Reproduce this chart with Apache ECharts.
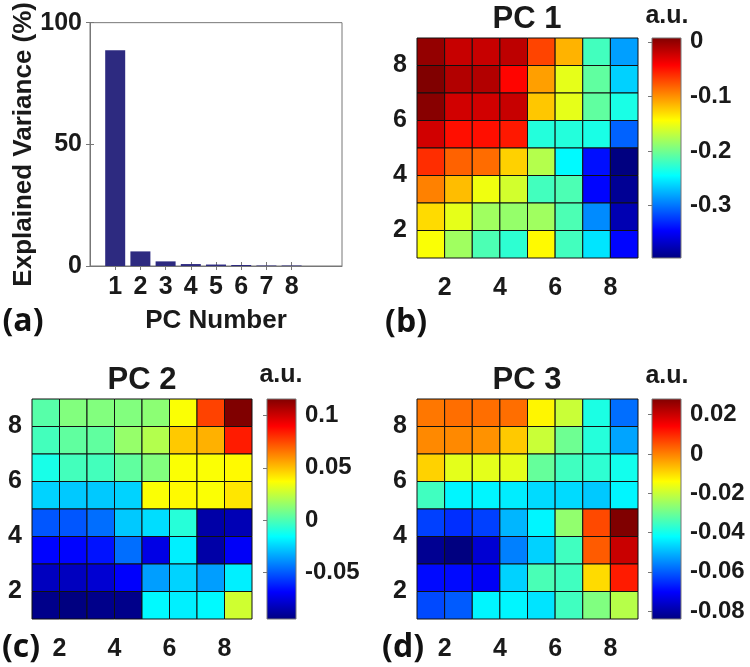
<!DOCTYPE html>
<html><head><meta charset="utf-8">
<script src="https://cdn.jsdelivr.net/npm/echarts@6/dist/echarts.min.js"></script>
<style>html,body{margin:0;padding:0;background:#fff}#c{width:750px;height:667px}</style>
</head><body><div id="c"></div>
<script>
// ---- data ----
const pcNumbers = [1, 2, 3, 4, 5, 6, 7, 8];
const explainedVariance = [88.7, 6.0, 1.9, 0.8, 0.6, 0.4, 0.2, 0.2];
const varianceTicks = [0, 50, 100];
const gridTicks = [2, 4, 6, 8];
// rows listed from top (y = 8) down to bottom (y = 1); columns x = 1..8
const pc1Rows = [
  [-0.001, -0.021, -0.021, -0.017, -0.070, -0.114, -0.219, -0.283],
  [ 0.007, -0.013, -0.013, -0.045, -0.106, -0.154, -0.207, -0.263],
  [ 0.004, -0.025, -0.025, -0.021, -0.122, -0.154, -0.207, -0.235],
  [-0.025, -0.049, -0.049, -0.053, -0.231, -0.231, -0.235, -0.307],
  [-0.061, -0.082, -0.086, -0.126, -0.174, -0.247, -0.340, -0.396],
  [-0.094, -0.118, -0.150, -0.162, -0.219, -0.215, -0.344, -0.388],
  [-0.130, -0.154, -0.182, -0.186, -0.182, -0.215, -0.291, -0.376],
  [-0.146, -0.182, -0.215, -0.227, -0.142, -0.219, -0.255, -0.344]
];
const pc2Rows = [
  [ 0.002,  0.011,  0.011,  0.011,  0.013,  0.036,  0.076,  0.116],
  [-0.002,  0.004,  0.004,  0.015,  0.021,  0.048,  0.053,  0.084],
  [-0.011, -0.002, -0.002,  0.004,  0.011,  0.036,  0.036,  0.038],
  [-0.025, -0.027, -0.027, -0.025,  0.036,  0.038,  0.036,  0.042],
  [-0.051, -0.051, -0.046, -0.027, -0.023, -0.008, -0.087, -0.084],
  [-0.068, -0.068, -0.065, -0.046, -0.074, -0.019, -0.087, -0.070],
  [-0.082, -0.082, -0.078, -0.069, -0.036, -0.025, -0.036, -0.019],
  [-0.093, -0.095, -0.093, -0.093, -0.017, -0.019, -0.017,  0.027]
];
const pc3Rows = [
  [ 0.001,  0.002,  0.002,  0.002, -0.013, -0.020, -0.039, -0.058],
  [-0.001, -0.001, -0.002, -0.008, -0.020, -0.030, -0.038, -0.052],
  [-0.009, -0.017, -0.017, -0.017, -0.031, -0.035, -0.037, -0.040],
  [-0.035, -0.043, -0.043, -0.044, -0.046, -0.046, -0.048, -0.043],
  [-0.063, -0.065, -0.063, -0.050, -0.043, -0.026,  0.006,  0.028],
  [-0.082, -0.084, -0.075, -0.056, -0.047, -0.035,  0.004,  0.020],
  [-0.069, -0.069, -0.071, -0.047, -0.034, -0.035, -0.010,  0.011],
  [-0.062, -0.060, -0.043, -0.043, -0.045, -0.035, -0.028, -0.022]
];
const pc1Range = [-0.396, 0.007];
const pc2Range = [-0.095, 0.116];
const pc3Range = [-0.084, 0.028];
const pc1Ticks = [-0.3, -0.2, -0.1, 0];
const pc2Ticks = [-0.05, 0, 0.05, 0.1];
const pc3Ticks = [-0.08, -0.06, -0.04, -0.02, 0, 0.02];
const panelTitles = ['PC 1', 'PC 2', 'PC 3'];
const panelLetters = ['(a)', '(b)', '(c)', '(d)'];

// ---- helpers ----
const jet = ['#000080', '#0000ff', '#0080ff', '#00ffff', '#80ff80', '#ffff00', '#ff8000', '#ff0000', '#800000'];
const FONT = '"Liberation Sans", Arial, sans-serif';
const TXT = '#1a1a1a';
const lab = (extra) => Object.assign({ fontFamily: FONT, fontWeight: 'bold', fontSize: 25, color: TXT }, extra || {});

function cells(rows) {
  const out = [];
  rows.forEach((row, r) => row.forEach((v, c) => out.push([c + 1, rows.length - r, v])));
  return out;
}
function heatItem(params, api) {
  const x = api.value(0), y = api.value(1);
  const p1 = api.coord([x, y + 1]);
  const p2 = api.coord([x + 1, y]);
  return { type: 'rect',
    shape: { x: p1[0], y: p1[1], width: p2[0] - p1[0], height: p2[1] - p1[1] },
    style: { fill: api.visual('color'), stroke: '#111', lineWidth: 1 } };
}
function cbarItem(params, api) {
  const lo = api.coord([0, api.value(1)]);
  const hi = api.coord([1, api.value(2)]);
  return { type: 'rect',
    shape: { x: lo[0], y: hi[1], width: hi[0] - lo[0], height: lo[1] - hi[1] },
    style: { stroke: '#777', lineWidth: 1,
      fill: { type: 'linear', x: 0, y: 1, x2: 0, y2: 0,
        colorStops: jet.map((c, i) => ({ offset: i / (jet.length - 1), color: c })) } } };
}
function heatX(gi) {
  return { type: 'value', gridIndex: gi, min: 1, max: 9,
    axisLine: { show: false }, axisTick: { show: false }, splitLine: { show: false },
    axisLabel: lab({ customValues: gridTicks, margin: 18 }) };
}
function heatY(gi) {
  return { type: 'value', gridIndex: gi, min: 1, max: 9,
    axisLine: { show: false }, axisTick: { show: false }, splitLine: { show: false },
    axisLabel: lab({ customValues: gridTicks, margin: 10 }) };
}
function cbX(gi) {
  return { type: 'value', gridIndex: gi, min: 0, max: 1, show: false };
}
function cbY(gi, range, ticks) {
  return { type: 'value', gridIndex: gi, position: 'right', min: range[0], max: range[1],
    axisLine: { show: false }, splitLine: { show: false },
    axisTick: { show: true, inside: true, length: 4, customValues: ticks, lineStyle: { color: '#777' } },
    axisLabel: lab({ customValues: ticks, margin: 9, fontSize: 24, formatter: v => String(v) }) };
}

const option = {
  animation: false,
  backgroundColor: '#fff',
  grid: [
    { left: 90, top: 15, width: 252, height: 251, show: true, borderColor: '#777', borderWidth: 1 },
    { left: 417, top: 38, width: 221, height: 220 },
    { left: 652, top: 38, width: 29, height: 220 },
    { left: 32, top: 399, width: 220, height: 220 },
    { left: 267, top: 399, width: 29, height: 220 },
    { left: 417, top: 399, width: 221, height: 220 },
    { left: 652, top: 399, width: 29, height: 220 }
  ],
  xAxis: [
    { type: 'value', gridIndex: 0, min: 0, max: 10,
      axisLine: { show: true, lineStyle: { color: '#777' } }, splitLine: { show: false },
      axisTick: { show: true, inside: true, length: 4, customValues: pcNumbers, lineStyle: { color: '#777' } },
      axisLabel: lab({ customValues: pcNumbers, margin: 9 }),
      name: 'PC Number', nameLocation: 'middle', nameGap: 42, nameTextStyle: lab({ fontSize: 26 }) },
    { type: 'value', gridIndex: 0, position: 'top', min: 0, max: 10,
      axisLine: { show: false }, splitLine: { show: false }, axisLabel: { show: false },
      axisTick: { show: true, inside: true, length: 4, customValues: pcNumbers, lineStyle: { color: '#777' } } },
    heatX(1), cbX(2), heatX(3), cbX(4), heatX(5), cbX(6)
  ],
  yAxis: [
    { type: 'value', gridIndex: 0, min: 0, max: 100, interval: 50,
      axisLine: { show: true, lineStyle: { color: '#777' } }, splitLine: { show: false },
      axisTick: { show: true, inside: true, length: 4, lineStyle: { color: '#777' } },
      axisLabel: lab({ margin: 8 }),
      name: 'Explained Variance (%)', nameLocation: 'middle', nameGap: 47,
      nameTextStyle: lab({ fontSize: 26 }) },
    { type: 'value', gridIndex: 0, position: 'right', min: 0, max: 100,
      axisLine: { show: false }, splitLine: { show: false }, axisLabel: { show: false },
      axisTick: { show: true, inside: true, length: 4, customValues: varianceTicks, lineStyle: { color: '#777' } } },
    heatY(1), cbY(2, pc1Range, pc1Ticks),
    heatY(3), cbY(4, pc2Range, pc2Ticks),
    heatY(5), cbY(6, pc3Range, pc3Ticks)
  ],
  visualMap: [
    { type: 'continuous', show: false, seriesIndex: 1, dimension: 2, min: pc1Range[0], max: pc1Range[1], inRange: { color: jet } },
    { type: 'continuous', show: false, seriesIndex: 3, dimension: 2, min: pc2Range[0], max: pc2Range[1], inRange: { color: jet } },
    { type: 'continuous', show: false, seriesIndex: 5, dimension: 2, min: pc3Range[0], max: pc3Range[1], inRange: { color: jet } }
  ],
  series: [
    { type: 'bar', xAxisIndex: 0, yAxisIndex: 0, barWidth: 20,
      itemStyle: { color: '#2d2a80' },
      data: pcNumbers.map((n, i) => [n, explainedVariance[i]]) },
    { type: 'custom', xAxisIndex: 2, yAxisIndex: 2, renderItem: heatItem, data: cells(pc1Rows) },
    { type: 'custom', xAxisIndex: 3, yAxisIndex: 3, renderItem: cbarItem, data: [[0, pc1Range[0], pc1Range[1]]] },
    { type: 'custom', xAxisIndex: 4, yAxisIndex: 4, renderItem: heatItem, data: cells(pc2Rows) },
    { type: 'custom', xAxisIndex: 5, yAxisIndex: 5, renderItem: cbarItem, data: [[0, pc2Range[0], pc2Range[1]]] },
    { type: 'custom', xAxisIndex: 6, yAxisIndex: 6, renderItem: heatItem, data: cells(pc3Rows) },
    { type: 'custom', xAxisIndex: 7, yAxisIndex: 7, renderItem: cbarItem, data: [[0, pc3Range[0], pc3Range[1]]] }
  ],
  graphic: [
    { type: 'text', x: 527, y: 19, style: { text: panelTitles[0], font: 'bold 31px ' + FONT, fill: TXT, align: 'center', verticalAlign: 'middle' } },
    { type: 'text', x: 142, y: 380, style: { text: panelTitles[1], font: 'bold 31px ' + FONT, fill: TXT, align: 'center', verticalAlign: 'middle' } },
    { type: 'text', x: 527, y: 380, style: { text: panelTitles[2], font: 'bold 31px ' + FONT, fill: TXT, align: 'center', verticalAlign: 'middle' } },
    { type: 'text', x: 667, y: 16, style: { text: 'a.u.', font: 'bold 25px ' + FONT, fill: TXT, align: 'center', verticalAlign: 'middle' } },
    { type: 'text', x: 281, y: 375, style: { text: 'a.u.', font: 'bold 25px ' + FONT, fill: TXT, align: 'center', verticalAlign: 'middle' } },
    { type: 'text', x: 667, y: 376, style: { text: 'a.u.', font: 'bold 25px ' + FONT, fill: TXT, align: 'center', verticalAlign: 'middle' } },
    { type: 'text', x: 23, y: 322, style: { text: panelLetters[0], font: 'bold 32px "Open Sans", sans-serif', fill: '#111', align: 'center', verticalAlign: 'middle' } },
    { type: 'text', x: 406, y: 323, style: { text: panelLetters[1], font: 'bold 32px "Open Sans", sans-serif', fill: '#111', align: 'center', verticalAlign: 'middle' } },
    { type: 'text', x: 21, y: 648, style: { text: panelLetters[2], font: 'bold 32px "Open Sans", sans-serif', fill: '#111', align: 'center', verticalAlign: 'middle' } },
    { type: 'text', x: 403, y: 648, style: { text: panelLetters[3], font: 'bold 32px "Open Sans", sans-serif', fill: '#111', align: 'center', verticalAlign: 'middle' } }
  ]
};
echarts.init(document.getElementById('c'), null, { renderer: 'canvas' }).setOption(option);
</script>
</body></html>
